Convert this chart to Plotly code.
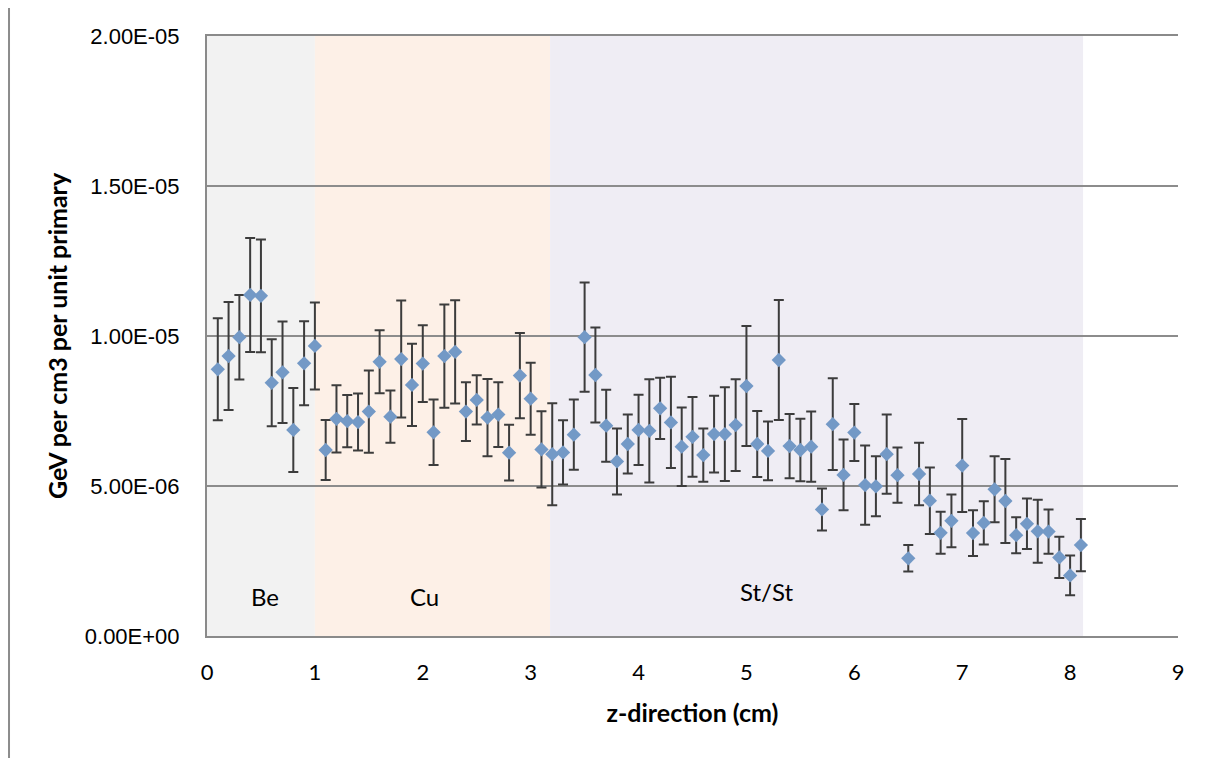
import plotly.graph_objects as go

# ---- data (values in units of 1e-6 GeV per cm3 per unit primary) ----
z_cm = [round(0.1 * i, 1) for i in range(1, 82)]
dose_e6 = [8.89, 9.33, 9.96, 11.37, 11.34, 8.44, 8.79, 6.87, 9.09, 9.67,
           6.20, 7.24, 7.16, 7.13, 7.48, 9.14, 7.31, 9.23, 8.37, 9.08,
           6.79, 9.33, 9.47, 7.48, 7.87, 7.28, 7.38, 6.11, 8.68, 7.91,
           6.22, 6.06, 6.12, 6.71, 9.96, 8.70, 7.01, 5.82, 6.40, 6.87,
           6.84, 7.59, 7.12, 6.31, 6.64, 6.03, 6.73, 6.73, 7.03, 8.33,
           6.40, 6.17, 9.20, 6.33, 6.20, 6.31, 4.22, 7.06, 5.37, 6.78,
           5.03, 4.99, 6.06, 5.36, 2.59, 5.40, 4.51, 3.44, 3.84, 5.68,
           3.43, 3.77, 4.89, 4.50, 3.36, 3.74, 3.49, 3.48, 2.62, 2.02,
           3.03]
err_e6 = [1.70, 1.80, 1.41, 1.90, 1.88, 1.45, 1.69, 1.40, 1.40, 1.45,
          1.00, 1.12, 0.87, 0.95, 1.37, 1.05, 0.87, 1.95, 1.37, 1.28,
          1.09, 1.72, 1.72, 0.98, 0.82, 1.29, 1.08, 0.93, 1.42, 1.20,
          1.27, 1.70, 1.07, 1.17, 1.82, 1.58, 1.20, 1.10, 0.98, 1.17,
          1.72, 1.02, 1.52, 1.31, 1.33, 0.89, 1.28, 1.56, 1.53, 2.00,
          1.10, 0.98, 2.00, 1.07, 1.04, 1.17, 0.70, 1.53, 1.18, 0.95,
          1.32, 1.00, 1.32, 0.92, 0.44, 1.04, 1.11, 0.70, 0.88, 1.55,
          0.76, 0.72, 1.10, 1.40, 0.60, 0.84, 1.05, 0.74, 0.69, 0.66,
          0.87]

regions = ["Be", "Cu", "St/St"]
region_start = [0.0, 1.0, 3.18]
region_end = [1.0, 3.18, 8.12]
region_colors = ["#f2f2f2", "#fdf0e7", "#efedf4"]
region_label_x = [0.54, 2.02, 5.19]
region_label_y = [1.33e-6, 1.33e-6, 1.47e-6]

y_ticks = [0, 5e-6, 1e-5, 1.5e-5, 2e-5]
y_ticktext = ["0.00E+00", "5.00E-06", "1.00E-05", "1.50E-05", "2.00E-05"]
x_ticks = list(range(0, 10))

dose = [v * 1e-6 for v in dose_e6]
err = [e * 1e-6 for e in err_e6]

fig = go.Figure()

fig.add_trace(go.Scatter(
    x=z_cm, y=dose, mode="markers",
    marker=dict(symbol="diamond", size=11, color="#7399c6"),
    error_y=dict(type="data", array=err, visible=True,
                 color="#3c3c3c", thickness=2, width=5),
    showlegend=False,
))

shapes = []
for s, e, c in zip(region_start, region_end, region_colors):
    shapes.append(dict(type="rect", xref="x", yref="y", x0=s, x1=e,
                       y0=0, y1=2e-5, fillcolor=c, line=dict(width=0),
                       layer="below"))
# outer chart frame (left edge)
shapes.append(dict(type="line", xref="paper", yref="paper",
                   x0=-0.2039, x1=-0.2039, y0=-0.21, y1=1.06,
                   line=dict(color="#8c8c8c", width=2)))

annotations = []
for name, lx, ly in zip(regions, region_label_x, region_label_y):
    annotations.append(dict(x=lx, y=ly, xref="x", yref="y", text=name,
                            showarrow=False,
                            font=dict(family="Lato", size=24, color="#000000")))

fig.update_layout(
    width=1201, height=750,
    margin=dict(l=199, r=31, t=28, b=122),
    paper_bgcolor="white", plot_bgcolor="white",
    shapes=shapes, annotations=annotations,
    xaxis=dict(
        range=[0, 9], tickvals=x_ticks, ticks="", showgrid=False,
        showline=True, linecolor="#8a8a8a", linewidth=2, mirror=True,
        tickfont=dict(family="Lato", size=22, color="#000000"),
        ticklabelstandoff=16,
        title=dict(text="<b>z-direction (cm)</b>", standoff=20,
                   font=dict(family="Lato", size=25, color="#000000")),
        zeroline=False,
    ),
    yaxis=dict(
        range=[0, 2e-5], tickvals=y_ticks, ticktext=y_ticktext, ticks="",
        showgrid=True, gridcolor="#8c8c8c", gridwidth=1.5,
        showline=True, linecolor="#8a8a8a", linewidth=2,
        tickfont=dict(family="Liberation Sans", size=22, color="#000000"),
        ticklabelstandoff=21,
        title=dict(text="<b>GeV per cm3 per unit primary</b>", standoff=10,
                   font=dict(family="Lato", size=25, color="#000000")),
        zeroline=False,
    ),
)

fig.write_html("out.html")
